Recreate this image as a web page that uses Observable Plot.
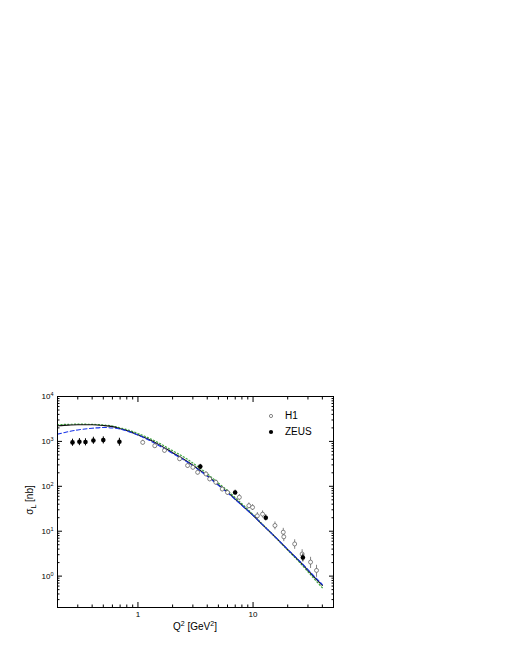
<!DOCTYPE html>
<html><head><meta charset="utf-8">
<script src="https://cdn.jsdelivr.net/npm/d3@7"></script>
<script src="https://cdn.jsdelivr.net/npm/@observablehq/plot@0.6"></script>
<style>
html,body{margin:0;padding:0;background:#fff;}
body{font-family:"Liberation Sans",Arial,sans-serif;}
#wrap{position:relative;width:510px;height:660px;overflow:hidden;}
#wrap svg{position:absolute;left:0;top:0;}
.ov{position:absolute;font-size:10px;color:#000;white-space:nowrap;line-height:1;}
.ov sub,.ov sup{font-size:7px;}
#ytitle{left:31px;top:500px;transform:translate(-50%,-50%) rotate(-90deg);}
#xtitle{left:195px;top:626px;transform:translate(-50%,-50%);}
.leg{position:absolute;font-size:10px;line-height:1;}
</style></head>
<body><div id="wrap"></div>
<script>
// ---- data ----
const h1Q2    = [1.1, 1.4, 1.7, 2.3, 2.7, 3.0, 3.3, 3.9, 4.2, 4.75, 5.4, 6.0, 7.6, 9.2, 9.9, 10.9, 12.1, 15.5, 18.3, 18.5, 23, 26.7, 31.6, 35.6];
const h1Sigma = [950, 800, 630, 410, 290, 265, 205, 188, 146, 123, 87, 73, 57, 37, 34, 22, 24, 13.4, 9.5, 7.5, 5.2, 3.1, 2.05, 1.34];
const h1Err   = [0.12, 0.12, 0.12, 0.12, 0.12, 0.12, 0.12, 0.12, 0.13, 0.13, 0.13, 0.14, 0.15, 0.15, 0.15, 0.18, 0.18, 0.2, 0.22, 0.22, 0.24, 0.25, 0.28, 0.3];

const zeusQ2    = [0.27, 0.31, 0.35, 0.41, 0.50, 0.69, 3.48, 6.99, 12.9, 27.1];
const zeusSigma = [950, 980, 970, 1050, 1070, 980, 275, 73, 20, 2.6];
const zeusErr   = [0.18, 0.18, 0.18, 0.18, 0.18, 0.2, 0.12, 0.12, 0.15, 0.2];

const curveQ2    = [0.2, 0.25, 0.3, 0.4, 0.5, 0.6, 0.7, 0.85, 1.0, 1.25, 1.5, 2, 2.5, 3, 4, 5, 6, 7, 8, 10, 12, 15, 20, 25, 30, 35, 40];
const solidSigma = [2230, 2300, 2340, 2340, 2260, 2130, 1920, 1650, 1400, 1100, 870, 560, 400, 295, 172, 108, 74, 52, 38, 22.5, 14.2, 8.2, 3.9, 2.2, 1.35, 0.88, 0.62];
const dotSigma   = [2350, 2400, 2420, 2400, 2320, 2200, 2000, 1750, 1500, 1180, 940, 620, 450, 330, 190, 118, 80, 56, 41, 23.5, 14.5, 8.2, 3.8, 2.1, 1.25, 0.8, 0.55];
const dashSigma  = [1450, 1650, 1800, 1960, 2040, 1990, 1880, 1620, 1380, 1060, 820, 540, 390, 285, 168, 105, 72, 51, 37.5, 22.5, 14.2, 8.2, 3.95, 2.25, 1.4, 0.92, 0.65];

const xTickLabels = [1, 10];
const xMinorTicks = [0.2,0.3,0.4,0.5,0.6,0.7,0.8,0.9,2,3,4,5,6,7,8,9,20,30,40,50];
const yTickLabels = [1, 10, 100, 1000, 10000];
const yMinorTicks = [0.2,0.3,0.4,0.5,0.6,0.7,0.8,0.9,2,3,4,5,6,7,8,9,20,30,40,50,60,70,80,90,200,300,400,500,600,700,800,900,2000,3000,4000,5000,6000,7000,8000,9000];

// ---- tables ----
const h1 = h1Q2.map((q, i) => ({q, s: h1Sigma[i], lo: h1Sigma[i]*(1-h1Err[i]), hi: h1Sigma[i]*(1+h1Err[i])}));
const zeus = zeusQ2.map((q, i) => ({q, s: zeusSigma[i], lo: zeusSigma[i]*(1-zeusErr[i]), hi: zeusSigma[i]*(1+zeusErr[i])}));
const solid = curveQ2.map((q, i) => ({q, s: solidSigma[i]}));
const dotted = curveQ2.map((q, i) => ({q, s: dotSigma[i]}));
const dashed = curveQ2.map((q, i) => ({q, s: dashSigma[i]}));

const noText = () => "";
const chart = Plot.plot({
  width: 510, height: 660,
  marginTop: 396, marginLeft: 57, marginRight: 177, marginBottom: 53,
  style: {fontFamily: '"Liberation Sans", Arial, sans-serif', fontSize: "8px", background: "transparent", color: "#000"},
  x: {type: "log", domain: [0.2, 50]},
  y: {type: "log", domain: [0.2, 10000]},
  marks: [
    Plot.axisX(xMinorTicks, {anchor: "bottom", tickSize: -2.5, tickFormat: noText, label: null}),
    Plot.axisX(xMinorTicks, {anchor: "top", tickSize: -2.5, tickFormat: noText, label: null}),
    Plot.axisX(xTickLabels, {anchor: "bottom", tickSize: -5, tickFormat: noText, label: null}),
    Plot.axisX(xTickLabels, {anchor: "top", tickSize: -5, tickFormat: noText, label: null}),
    Plot.axisX(xTickLabels, {anchor: "bottom", tickSize: 0, tickPadding: 4, tickFormat: d => String(d), label: null, fontSize: 8}),
    Plot.axisY(yMinorTicks, {anchor: "left", tickSize: -2.5, tickFormat: noText, label: null}),
    Plot.axisY(yMinorTicks, {anchor: "right", tickSize: -2.5, tickFormat: noText, label: null}),
    Plot.axisY(yTickLabels, {anchor: "left", tickSize: -5, tickFormat: noText, label: null}),
    Plot.axisY(yTickLabels, {anchor: "right", tickSize: -5, tickFormat: noText, label: null}),
    Plot.axisY(yTickLabels, {anchor: "left", tickSize: 0, tickPadding: 4, tickFormat: d => "10^" + Math.round(Math.log10(d)), label: null, fontSize: 8}),
    Plot.line(dotted, {x: "q", y: "s", stroke: "#3fa83f", strokeWidth: 1.2, strokeDasharray: "1.2,2.2", curve: "monotone-x"}),
    Plot.line(solid, {x: "q", y: "s", stroke: "#111", strokeWidth: 1.1, curve: "monotone-x"}),
    Plot.line(dashed, {x: "q", y: "s", stroke: "#1a35e8", strokeWidth: 1.1, strokeDasharray: "4,2.5", curve: "monotone-x"}),
    Plot.ruleX(h1, {x: "q", y1: "lo", y2: "hi", stroke: "#666", strokeWidth: 0.8}),
    Plot.dot(h1, {x: "q", y: "s", r: 2, fill: "white", stroke: "#555", strokeWidth: 0.7}),
    Plot.ruleX(zeus, {x: "q", y1: "lo", y2: "hi", stroke: "#000", strokeWidth: 1}),
    Plot.dot(zeus, {x: "q", y: "s", r: 2.3, fill: "#000", stroke: "none"}),
    Plot.frame({stroke: "#000", strokeWidth: 1})
  ]
});

// superscript exponents on the y tick labels
d3.select(chart).selectAll("text").each(function() {
  const t = this.textContent;
  const m = /^10\^(-?\d+)$/.exec(t);
  if (m) {
    const sel = d3.select(this);
    sel.text("10");
    sel.append("tspan").attr("dy", "-0.55em").attr("font-size", "5.5px").text(m[1]);
  }
});

const wrap = document.getElementById("wrap");
wrap.appendChild(chart);
wrap.insertAdjacentHTML("beforeend",
  '<div class="ov" id="ytitle">σ<sub>L</sub> [nb]</div>' +
  '<div class="ov" id="xtitle">Q<sup>2</sup> [GeV<sup>2</sup>]</div>' +
  '<svg width="10" height="10" style="position:absolute;left:266px;top:411px"><circle cx="5" cy="5" r="1.6" fill="white" stroke="#555" stroke-width="0.7"/></svg>' +
  '<div class="leg" style="left:285px;top:411px">H1</div>' +
  '<svg width="10" height="10" style="position:absolute;left:266px;top:427px"><circle cx="5" cy="5" r="2.1" fill="#000"/></svg>' +
  '<div class="leg" style="left:285px;top:427px">ZEUS</div>');
</script>
</body></html>
